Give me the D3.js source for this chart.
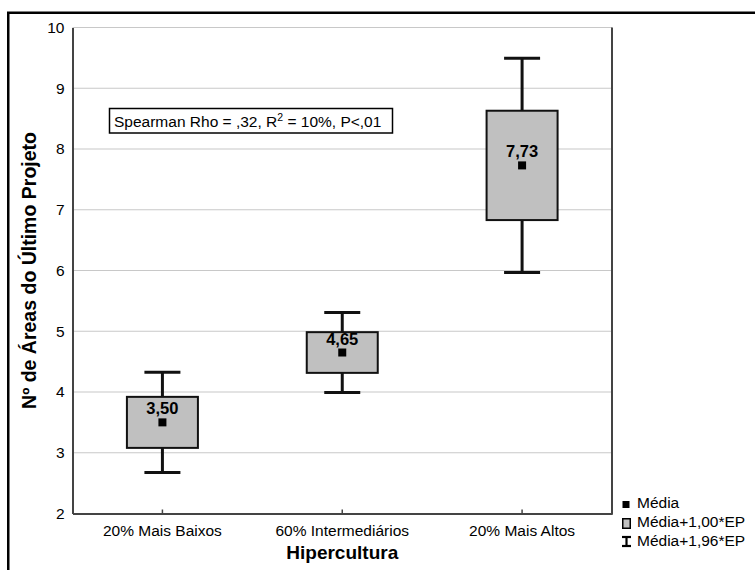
<!DOCTYPE html>
<html>
<head>
<meta charset="utf-8">
<script src="https://cdn.jsdelivr.net/npm/d3@7"></script>
<style>
  html, body { margin: 0; padding: 0; background: #fff; }
  svg { display: block; font-family: "Liberation Sans", Arial, sans-serif; }
</style>
</head>
<body>
<svg id="chart" width="755" height="570"></svg>
<script>
// Groups along the x axis
const categories = ["20% Mais Baixos", "60% Intermediários", "20% Mais Altos"];
// Mean number of areas per group
const means = [3.50, 4.65, 7.73];
// Standard error per group
const stdErrors = [0.42, 0.335, 0.90];
// Y axis tick values
const yTicks = [2, 3, 4, 5, 6, 7, 8, 9, 10];
// Legend entries
const legendLabels = ["Média", "Média+1,00*EP", "Média+1,96*EP"];

const FONT = "'Liberation Sans', Arial, sans-serif";
const svg = d3.select("#chart");
const plot = { left: 72.5, right: 612, top: 27.5, bottom: 513.5 };

const x = d3.scaleBand().domain(categories).range([plot.left, plot.right]).padding(0);
const y = d3.scaleLinear().domain([2, 10]).range([plot.bottom, plot.top]);

const fmt = v => d3.format(".2f")(v).replace(".", ",");
const boxW = 71, capW = 36;

// Outer frame
svg.append("rect")
  .attr("x", 8.25).attr("y", 12.75).attr("width", 800).attr("height", 700)
  .attr("fill", "none").attr("stroke", "#000").attr("stroke-width", 2.5);

// Horizontal grid lines
svg.append("g").selectAll("line").data(yTicks).join("line")
  .attr("x1", plot.left).attr("x2", plot.right)
  .attr("y1", d => y(d)).attr("y2", d => y(d))
  .attr("stroke", "#c8c8c8").attr("stroke-width", 1.2);

// Y axis
const yAxis = svg.append("g")
  .attr("transform", `translate(${plot.left},0)`)
  .call(d3.axisLeft(y).tickValues(yTicks).tickSize(0).tickPadding(8).tickFormat(d3.format("d")));
yAxis.select(".domain").attr("stroke", "#444").attr("stroke-width", 2);
yAxis.selectAll("text").attr("font-size", "15.5px").attr("fill", "#000").attr("font-family", FONT);

// X axis with small inner ticks
const xAxis = svg.append("g")
  .attr("transform", `translate(0,${plot.bottom})`)
  .call(d3.axisBottom(x).tickSizeInner(-4).tickSizeOuter(0).tickPadding(11));
xAxis.select(".domain").attr("stroke", "#444").attr("stroke-width", 2);
xAxis.selectAll(".tick line").attr("stroke", "#444").attr("stroke-width", 1.5);
xAxis.selectAll("text").attr("font-size", "15.5px").attr("fill", "#000").attr("font-family", FONT);

// Right border of plot area
svg.append("line")
  .attr("x1", plot.right).attr("x2", plot.right)
  .attr("y1", plot.top).attr("y2", plot.bottom + 1)
  .attr("stroke", "#444").attr("stroke-width", 2);

// Whiskers, boxes, means
const groups = svg.append("g").selectAll("g").data(categories).join("g")
  .attr("transform", d => `translate(${x(d) + x.bandwidth() / 2},0)`);

groups.append("line")
  .attr("x1", 0).attr("x2", 0)
  .attr("y1", (d, i) => y(means[i] + 1.96 * stdErrors[i]))
  .attr("y2", (d, i) => y(means[i] - 1.96 * stdErrors[i]))
  .attr("stroke", "#111").attr("stroke-width", 3);

[1, -1].forEach(s => {
  groups.append("line")
    .attr("x1", -capW / 2).attr("x2", capW / 2)
    .attr("y1", (d, i) => y(means[i] + s * 1.96 * stdErrors[i]))
    .attr("y2", (d, i) => y(means[i] + s * 1.96 * stdErrors[i]))
    .attr("stroke", "#111").attr("stroke-width", 3);
});

groups.append("rect")
  .attr("x", -boxW / 2)
  .attr("y", (d, i) => y(means[i] + stdErrors[i]))
  .attr("width", boxW)
  .attr("height", (d, i) => y(means[i] - stdErrors[i]) - y(means[i] + stdErrors[i]))
  .attr("fill", "#c0c0c0").attr("stroke", "#111").attr("stroke-width", 2);

groups.append("rect")
  .attr("x", -4).attr("y", (d, i) => y(means[i]) - 4)
  .attr("width", 8).attr("height", 8).attr("fill", "#000");

groups.append("text")
  .attr("x", 0).attr("y", (d, i) => y(means[i]) - 8)
  .attr("text-anchor", "middle").attr("font-weight", "bold").attr("font-size", "16.5px")
  .text((d, i) => fmt(means[i]));

// Statistics annotation
const ann = svg.append("g");
ann.append("rect")
  .attr("x", 109.5).attr("y", 108.5).attr("width", 283).attr("height", 24.5)
  .attr("fill", "#fff").attr("stroke", "#000").attr("stroke-width", 1.5);
const annText = ann.append("text").attr("x", 114).attr("y", 126.5).attr("font-size", "15.5px");
annText.append("tspan").text("Spearman Rho = ,32, R");
annText.append("tspan").attr("dy", -6).attr("font-size", "10.5px").text("2");
annText.append("tspan").attr("dy", 6).text(" = 10%, P<,01");

// Axis titles
svg.append("text")
  .attr("x", (plot.left + plot.right) / 2).attr("y", 559)
  .attr("text-anchor", "middle").attr("font-weight", "bold").attr("font-size", "19px")
  .text("Hipercultura");
svg.append("text")
  .attr("transform", `translate(36,${(plot.top + plot.bottom) / 2}) rotate(-90)`)
  .attr("text-anchor", "middle").attr("font-weight", "bold").attr("font-size", "19.5px")
  .text("Nº de Áreas do Último Projeto");

// Legend
const lg = svg.append("g").attr("transform", "translate(622,0)");
lg.append("rect").attr("x", 0.5).attr("y", 501).attr("width", 7).attr("height", 7).attr("fill", "#000");
lg.append("rect").attr("x", 0.75).attr("y", 518.75).attr("width", 7.5).attr("height", 9.5)
  .attr("fill", "#c0c0c0").attr("stroke", "#000").attr("stroke-width", 1.5);
const ib = lg.append("g").attr("stroke", "#000").attr("stroke-width", 2.2);
ib.append("line").attr("x1", 0).attr("x2", 9).attr("y1", 537).attr("y2", 537);
ib.append("line").attr("x1", 0).attr("x2", 9).attr("y1", 546).attr("y2", 546);
ib.append("line").attr("x1", 4.5).attr("x2", 4.5).attr("y1", 537).attr("y2", 546);
lg.selectAll("text.leg").data(legendLabels).join("text").attr("class", "leg")
  .attr("x", 15).attr("y", (d, i) => 508 + i * 19)
  .attr("font-size", "15.5px").text(d => d);
</script>
</body>
</html>
